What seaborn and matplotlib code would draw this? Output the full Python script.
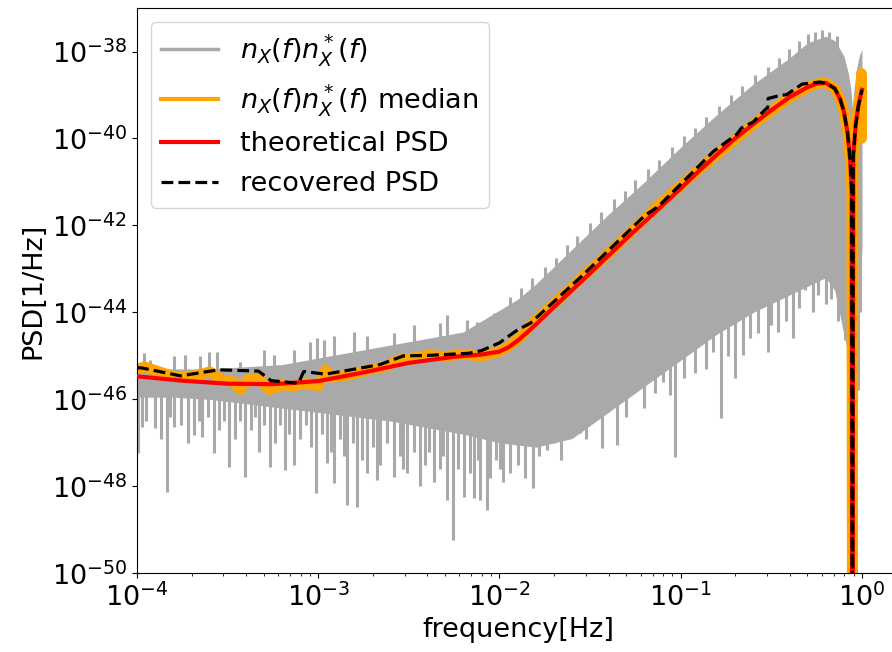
import numpy as np
import pandas as pd
import matplotlib
matplotlib.use("Agg")
import matplotlib.pyplot as plt
import matplotlib.ticker as mticker
from matplotlib.lines import Line2D
import seaborn as sns

# ---------------- data (log10 frequency, log10 PSD) ----------------
theo_logf = [-4.0, -3.75, -3.5, -3.25, -3.0, -2.75, -2.5, -2.25, -2.1, -2.0, -1.95, -1.9,
             -1.85, -1.8, -1.7, -1.5, -1.3, -1.2, -1.0, -0.9, -0.8, -0.7, -0.6, -0.5, -0.4,
             -0.3, -0.25, -0.2, -0.15, -0.12, -0.1, -0.08, -0.065, -0.057, -0.053, -0.048,
             -0.035, -0.02, 0.0]
theo_val = [-45.47, -45.57, -45.64, -45.65, -45.58, -45.38, -45.16, -45.02, -44.97, -44.90,
            -44.80, -44.65, -44.47, -44.28, -43.88, -43.10, -42.30, -41.92, -41.15, -40.75,
            -40.37, -40.00, -39.67, -39.35, -39.05, -38.82, -38.74, -38.72, -38.85, -39.10,
            -39.38, -39.85, -40.50, -41.20, -55.0, -40.40, -39.70, -39.25, -38.88]

med_logf = [-4.0, -3.96, -3.9, -3.85, -3.79, -3.7, -3.63, -3.6, -3.53, -3.47, -3.43, -3.39,
            -3.33, -3.27, -3.2, -3.14, -3.06, -3.0, -2.96, -2.93, -2.88, -2.82, -2.73, -2.63,
            -2.56, -2.49, -2.4, -2.3, -2.2, -2.1, -2.0, -1.95, -1.88, -1.83, -1.7, -1.55,
            -1.4, -1.25, -1.1, -0.95, -0.8, -0.7, -0.6, -0.5, -0.4, -0.3, -0.25, -0.2,
            -0.15, -0.12, -0.1, -0.08, -0.065, -0.057, -0.053, -0.048, -0.035, -0.02,
            -0.006, -0.003, -0.0015, 0.0]
med_val = [-45.30, -45.25, -45.33, -45.40, -45.48, -45.46, -45.40, -45.36, -45.55, -45.59,
           -45.78, -45.55, -45.51, -45.78, -45.67, -45.70, -45.63, -45.70, -45.32, -45.50,
           -45.46, -45.44, -45.32, -45.25, -45.09, -45.05, -44.98, -45.01, -44.96, -45.01,
           -44.90, -44.78, -44.55, -44.30, -43.80, -43.22, -42.65, -42.05, -41.45, -40.90,
           -40.37, -40.02, -39.68, -39.36, -39.06, -38.83, -38.74, -38.72, -38.85, -39.10,
           -39.38, -39.85, -40.50, -41.20, -55.0, -40.40, -39.70, -39.25, -38.90, -38.50,
           -40.00, -39.00]

rec_logf = [-4.0, -3.97, -3.76, -3.55, -3.33, -3.26, -3.11, -3.08, -2.96, -2.82, -2.66,
            -2.53, -2.4, -2.17, -2.1, -2.0, -1.9, -1.83, -1.55, -1.2, -1.158, -1.12, -0.82,
            -0.69, -0.665, -0.6, -0.53, -0.52, -0.518, -0.47, -0.415, -0.33, -0.23, -0.186,
            -0.15, -0.12, -0.1, -0.08, -0.065, -0.057, -0.053, -0.048, -0.035, -0.02, 0.0]
rec_val = [-45.27, -45.28, -45.46, -45.32, -45.35, -45.57, -45.63, -45.36, -45.42, -45.32,
           -45.20, -45.00, -44.99, -44.94, -44.88, -44.70, -44.40, -44.25, -43.18, -41.78,
           -41.66, -41.55, -40.30, -39.90, -39.76, -39.62, -39.32, -39.30, -39.08, -39.03,
           -38.99, -38.75, -38.70, -38.76, -38.85, -39.10, -39.38, -39.85, -40.50, -41.20,
           -55.0, -40.40, -39.70, -39.25, -38.88]

# periodogram n_X n_X^* : dense body envelope
body_logf = [-4.0, -3.8, -3.6, -3.4, -3.2, -3.0, -2.8, -2.6, -2.4, -2.2, -2.0, -1.9, -1.8,
             -1.6, -1.4, -1.2, -1.0, -0.8, -0.6, -0.4, -0.3, -0.2, -0.15, -0.1, -0.075,
             -0.06, -0.053, -0.045, -0.03, -0.015, 0.0]
body_top = [-45.25, -45.30, -45.30, -45.25, -45.20, -45.05, -44.90, -44.75, -44.60, -44.45,
            -43.95, -43.70, -43.35, -42.55, -41.75, -41.00, -40.20, -39.45, -38.75, -38.15,
            -37.80, -37.65, -37.75, -38.10, -38.50, -38.90, -39.30, -38.90, -38.40, -38.10,
            -37.95]
body_bot = [-45.95, -45.95, -46.00, -46.10, -46.20, -46.30, -46.40, -46.50, -46.65, -46.80,
            -47.00, -47.05, -47.10, -46.90, -46.30, -45.70, -45.10, -44.50, -44.00, -43.60,
            -43.40, -43.20, -43.50, -44.50, -45.00, -45.50, -45.80, -45.50, -45.00, -44.00,
            -42.50]

# individual downward spikes (log10 f, log10 minimum)
down_logf = [-3.996, -3.97, -3.95, -3.898, -3.87, -3.837, -3.82, -3.797, -3.76, -3.72,
             -3.687, -3.66, -3.64, -3.61, -3.577, -3.55, -3.52, -3.494, -3.46, -3.43,
             -3.402, -3.37, -3.35, -3.329, -3.30, -3.264, -3.24, -3.21, -3.181, -3.16,
             -3.136, -3.10, -3.07, -3.04, -3.01, -2.98, -2.951, -2.93, -2.915, -2.88,
             -2.86, -2.841, -2.81, -2.786, -2.76, -2.731, -2.70, -2.676, -2.66, -2.62,
             -2.584, -2.55, -2.53, -2.51, -2.47, -2.437, -2.41, -2.39, -2.364, -2.33,
             -2.31, -2.29, -2.254, -2.23, -2.198, -2.16, -2.143, -2.12, -2.106, -2.07,
             -2.05, -2.02, -1.996, -1.98, -1.941, -1.90, -1.86, -1.813, -1.78, -1.739,
             -1.70, -1.66, -1.628, -1.60, -1.555, -1.52, -1.48, -1.436, -1.40, -1.353,
             -1.30, -1.27, -1.243, -1.20, -1.142, -1.10, -1.06, -1.032, -0.98, -0.949,
             -0.92, -0.86, -0.82, -0.778, -0.74, -0.70, -0.655, -0.62, -0.572, -0.52,
             -0.50, -0.462, -0.42, -0.38, -0.35, -0.315, -0.27, -0.24, -0.20, -0.17,
             -0.13, -0.094, -0.075, -0.06, -0.04, -0.022, -0.01]
down_val = [-47.24, -46.63, -46.50, -46.66, -46.90, -48.12, -46.40, -46.63, -46.60, -47.00,
            -46.82, -46.50, -46.86, -46.40, -47.24, -46.70, -46.50, -47.55, -46.90, -46.50,
            -47.78, -46.70, -46.40, -47.20, -46.60, -47.55, -47.00, -46.60, -47.62, -46.80,
            -47.50, -46.90, -46.60, -47.10, -48.16, -46.80, -47.47, -47.20, -47.93, -46.90,
            -47.30, -48.43, -47.00, -48.47, -47.40, -47.70, -47.10, -47.85, -47.50, -47.00,
            -47.78, -47.30, -47.60, -47.70, -47.20, -48.00, -47.50, -47.20, -47.90, -47.60,
            -47.30, -48.31, -49.23, -47.60, -48.24, -47.70, -48.27, -47.40, -48.31, -48.54,
            -47.80, -47.40, -47.60, -47.90, -47.70, -47.50, -47.80, -48.04, -47.30, -47.16,
            -47.00, -47.40, -46.86, -46.60, -46.78, -46.90, -46.40, -47.12, -46.30, -47.05,
            -46.40, -45.80, -45.71, -46.20, -45.86, -45.60, -45.90, -47.32, -45.50, -44.91,
            -45.40, -45.30, -44.90, -46.43, -45.00, -45.50, -44.99, -44.60, -44.48, -44.90,
            -44.30, -44.44, -44.20, -44.60, -43.90, -43.48, -44.00, -43.60, -43.80, -43.70,
            -44.20, -44.63, -45.20, -46.20, -45.30, -45.78, -44.00]

# individual upward spikes (log10 f, log10 maximum)
up_logf = [-3.962, -3.926, -3.797, -3.733, -3.65, -3.604, -3.558, -3.429, -3.301, -3.246,
           -3.136, -3.044, -3.007, -2.97, -2.915, -2.805, -2.731, -2.584, -2.474, -2.327,
           -2.29, -2.18, -2.125, -2.033, -1.941, -1.88, -1.82, -1.75, -1.69, -1.63, -1.57,
           -1.50, -1.44, -1.37, -1.31, -1.25, -1.18, -1.12, -1.05, -0.98, -0.92, -0.86,
           -0.79, -0.72, -0.66, -0.59, -0.52, -0.46, -0.40, -0.35, -0.30, -0.26, -0.22,
           -0.18, -0.14]
up_val = [-44.94, -45.09, -45.01, -44.98, -45.01, -44.90, -44.90, -45.13, -44.86, -44.98,
          -44.86, -44.67, -44.59, -44.63, -44.55, -44.44, -44.55, -44.48, -44.29, -44.25,
          -44.06, -44.17, -44.21, -44.02, -43.65, -43.45, -43.20, -42.95, -42.75, -42.45,
          -42.25, -41.95, -41.70, -41.40, -41.20, -40.95, -40.70, -40.50, -40.20, -39.95,
          -39.75, -39.50, -39.25, -39.00, -38.80, -38.55, -38.35, -38.15, -37.95, -37.75,
          -37.60, -37.55, -37.50, -37.55, -37.65]

labels = [r"$n_X(f)n_X^*(f)$", r"$n_X(f)n_X^*(f)$ median", "theoretical PSD", "recovered PSD"]

GRAY = "#a9a9a9"
ORANGE = "#ffa500"
FS = 19.5

def p10(a):
    return 10.0 ** np.asarray(a, dtype=float)

fig = plt.figure(figsize=(8.92, 6.52), dpi=100)
ax = fig.add_axes([0.1536, 0.1207, 0.8542, 0.867])
ax.set_xscale("log")
ax.set_yscale("log")

# gray periodogram
ax.fill_between(p10(body_logf), p10(body_top), p10(body_bot), color=GRAY, lw=0, zorder=1)
mid_body = (np.array(body_top) + np.array(body_bot)) / 2
ax.vlines(p10(down_logf), p10(down_val), p10(np.interp(down_logf, body_logf, mid_body)),
          color=GRAY, lw=2.2, zorder=1)
ax.vlines(p10(up_logf), p10(np.interp(up_logf, body_logf, mid_body)), p10(up_val),
          color=GRAY, lw=2.2, zorder=1)

med_df = pd.DataFrame({"f": p10(med_logf), "psd": p10(med_val)})
theo_df = pd.DataFrame({"f": p10(theo_logf), "psd": p10(theo_val)})
rec_df = pd.DataFrame({"f": p10(rec_logf), "psd": p10(rec_val)})

sns.lineplot(data=med_df, x="f", y="psd", ax=ax, color=ORANGE, lw=7.5, sort=False,
             estimator=None, zorder=2)
sns.lineplot(data=theo_df, x="f", y="psd", ax=ax, color="red", lw=3, sort=False,
             estimator=None, zorder=3)
sns.lineplot(data=rec_df, x="f", y="psd", ax=ax, color="black", lw=2.3, linestyle="--",
             sort=False, estimator=None, zorder=4)

ax.set_xlim(1e-4, 1.6)
ax.set_ylim(1e-50, 1e-37)
ax.yaxis.set_major_formatter(mticker.LogFormatterSciNotation())
ax.set_yticks([1e-50, 1e-48, 1e-46, 1e-44, 1e-42, 1e-40, 1e-38])
ax.yaxis.set_minor_locator(mticker.NullLocator())
ax.tick_params(labelsize=FS)
ax.set_xlabel("frequency[Hz]", fontsize=FS)
ax.set_ylabel("PSD[1/Hz]", fontsize=FS)

handles = [Line2D([], [], color=GRAY, lw=2.5),
           Line2D([], [], color=ORANGE, lw=3),
           Line2D([], [], color="red", lw=3),
           Line2D([], [], color="black", lw=2.3, linestyle="--")]
ax.legend(handles, labels, loc="upper left", fontsize=FS, handlelength=2.1)

fig.savefig("out.png", dpi=100)
